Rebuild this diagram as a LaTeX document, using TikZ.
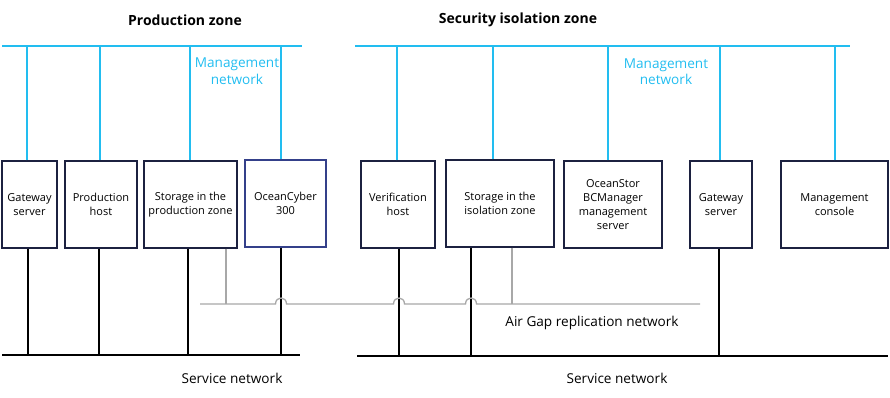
\documentclass[tikz,border=0pt]{standalone}
\usepackage{fontspec}
\setmainfont{Open Sans}
\definecolor{mgmtblue}{HTML}{22BDF0}
\definecolor{boxline}{HTML}{1C2140}
\definecolor{cyberline}{HTML}{34408A}
\definecolor{gapgray}{HTML}{A8A8A8}
\begin{document}
\begin{tikzpicture}[
  x=1pt, y=-1pt,
  dev/.style={draw=boxline, line width=1.3pt, fill=white, align=center, inner sep=1pt,
    font=\fontsize{11}{14}\selectfont, minimum height=87pt},
  mgmt/.style={draw=mgmtblue, line width=1.5pt},
  svc/.style={draw=black, line width=1.3pt},
  gap/.style={draw=gapgray, line width=1.3pt},
  zone/.style={font=\bfseries\fontsize{14}{17}\selectfont},
  lbl/.style={font=\fontsize{13.6}{16.5}\selectfont, align=center}
]
\useasboundingbox (0,0) rectangle (890,398);

% zone titles
\node[zone] (pz) at (185,20) {Production zone};
\node[zone] (sz) at (518,20) {Security isolation zone};

% devices
\node[dev, minimum width=55pt]  (gwp)     at (29.5,204.5)  {Gateway\\server};
\node[dev, minimum width=72pt]  (prodhost) at (101,204.5)  {Production\\host};
\node[dev, minimum width=93pt]  (stprod)  at (190.5,204.5) {Storage in the\\production zone};
\node[dev, draw=cyberline, minimum width=81pt] (cyber) at (285.5,203.5) {OceanCyber\\300};
\node[dev, minimum width=74pt]  (verif)   at (398,204.5)   {Verification\\host};
\node[dev, minimum width=108pt] (stiso)   at (500,203.5)   {Storage in the\\isolation zone};
\node[dev, minimum width=98pt]  (bcm)     at (613,204.5)   {OceanStor\\BCManager\\management\\server};
\node[dev, minimum width=62pt]  (gws)     at (721,204.5)   {Gateway\\server};
\node[dev, minimum width=107pt] (console) at (834.5,204.5) {Management\\console};

% network buses
\coordinate (mgL1) at (2,46);   \coordinate (mgL2) at (302,46);
\coordinate (mgR1) at (355,46); \coordinate (mgR2) at (850,46);
\coordinate (svL1) at (2,355);  \coordinate (svL2) at (300,355);
\coordinate (svR1) at (357,356); \coordinate (svR2) at (888,356);
\coordinate (gap1) at (200,304); \coordinate (gap2) at (700,304);

\draw[mgmt] (mgL1) -- (mgL2);
\draw[mgmt] (mgR1) -- (mgR2);
\draw[svc] (svL1) -- (svL2);
\draw[svc] (svR1) -- (svR2);

% management links
\foreach \n/\dx in {gwp/-2.5, prodhost/-1, stprod/-0.5, cyber/-4.5}
  \draw[mgmt] ([xshift=\dx pt]\n.north) -- ([xshift=\dx pt]\n.north |- mgL1);
\foreach \n/\dx in {verif/-1, stiso/-7, bcm/-5, gws/-1, console/0.5}
  \draw[mgmt] ([xshift=\dx pt]\n.north) -- ([xshift=\dx pt]\n.north |- mgR1);

% service links
\foreach \n/\dx in {gwp/-1.5, prodhost/-2, stprod/-2.5, cyber/-4.5}
  \draw[svc] ([xshift=\dx pt]\n.south) -- ([xshift=\dx pt]\n.south |- svL1);
\foreach \n/\dx in {verif/1, stiso/-29, gws/-2}
  \draw[svc] ([xshift=\dx pt]\n.south) -- ([xshift=\dx pt]\n.south |- svR1);

% air gap replication links
\draw[gap] (gap1) -- (275.5,304) .. controls (275.5,296) and (286.5,296) .. (286.5,304)
  -- (393.5,304) .. controls (393.5,296) and (404.5,296) .. (404.5,304)
  -- (465.5,304) .. controls (465.5,296) and (476.5,296) .. (476.5,304)
  -- (gap2);
\draw[gap] ([xshift=35.5pt]stprod.south) -- ([xshift=35.5pt]stprod.south |- gap1);
\draw[gap] ([xshift=12pt]stiso.south) -- ([xshift=12pt]stiso.south |- gap1);

% labels
\node[lbl, text=mgmtblue] (mnL) at (237,71) {Management\\network};
\node[lbl, text=mgmtblue] (mnR) at (666,71.5) {Management\\network};
\node[lbl] (agl) at (592,323) {Air Gap replication network};
\node[lbl] (snL) at (232,378) {Service network};
\node[lbl] (snR) at (617,378) {Service network};
\end{tikzpicture}
\end{document}
